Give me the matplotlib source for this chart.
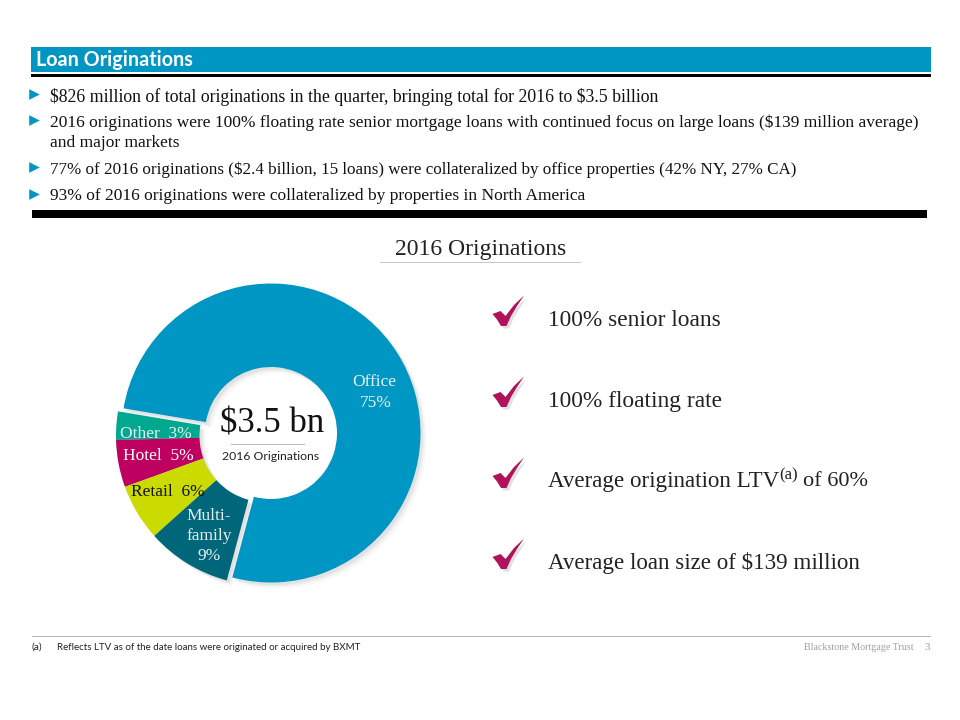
import matplotlib
matplotlib.use("Agg")
import matplotlib.pyplot as plt
from matplotlib.patches import Rectangle, Polygon

SERIF = "Liberation Serif"
SANS = "Lato"

categories = ["Office", "Other", "Hotel", "Retail", "Multifamily"]
shares = [75, 3, 5, 6, 9]
slice_colors = ["#0096C3", "#00A88F", "#BE0060", "#CBDB00", "#00667A"]

bullets = [
    ("$826 million of total originations in the quarter, bringing total for 2016 to $3.5 billion", 95, 12.8),
    ("2016 originations were 100% floating rate senior mortgage loans with continued focus on large loans ($139 million average)\nand major markets", 121, 12.55),
    ("77% of 2016 originations ($2.4 billion, 15 loans) were collateralized by office properties (42% NY, 27% CA)", 168, 12.25),
    ("93% of 2016 originations were collateralized by properties in North America", 195, 12.55),
]
check_rows = [318, 399, 480, 561]

fig = plt.figure(figsize=(9.6, 7.2), dpi=100, facecolor="white")
ax = fig.add_axes([0, 0, 1, 1])
ax.set_xlim(0, 960)
ax.set_ylim(720, 0)
ax.axis("off")


def rect(target, x0, y0, x1, y1, color, z=1):
    target.add_patch(Rectangle((x0, y0), x1 - x0, y1 - y0, fc=color, ec="none", zorder=z))


# header
rect(ax, 31, 47, 931, 72, "#0096C3")
rect(ax, 31, 73.5, 931, 76.5, "black")
ax.text(36, 60, "Loan Originations", color="white", fontsize=14.2, fontweight="bold",
        family=SANS, va="center", ha="left")

# bullets
for txt, y, size in bullets:
    ax.scatter([34], [y - 1], marker=">", s=58, color="#0096C3", linewidths=0, zorder=3)
    ax.text(50, y - 6.5, txt, fontsize=size, family=SERIF, color="#111111", va="top", ha="left",
            linespacing=1.3, parse_math=False)
rect(ax, 32, 210, 927, 218, "black")

# section title
ax.text(480.5, 249, "2016 Originations", fontsize=17, family=SERIF, color="#222222", ha="center", va="center")
rect(ax, 380, 261.5, 581, 262.8, "#C8C8C8")

# donut, on its own axes with a y axis that points up so the pie runs as in the slide
cx, cy, R = 271.0, 433.0, 149.5
HOLE = 66
pad = 30
pie_ax = fig.add_axes([(cx - R - pad) / 960, 1 - (cy + R + pad) / 720, (2 * R + 2 * pad) / 960, (2 * R + 2 * pad) / 720])
pie_ax.axis("off")
pie_ax.patch.set_alpha(0)
sx, sy = -5.5, -3.0

for dx, alpha in [(6, 0.04), (4, 0.06), (2.5, 0.08)]:
    w, _ = pie_ax.pie(shares, startangle=255, counterclock=True, radius=R,
                      colors=["#555555"] * len(shares), center=(dx, -dx),
                      wedgeprops=dict(width=R - HOLE, linewidth=0, alpha=alpha), frame=False)
    for wedge in w[1:]:
        wedge.set_center((dx + sx, -dx + sy))
wedges, _ = pie_ax.pie(shares, startangle=255, counterclock=True, radius=R, colors=slice_colors,
                       center=(0, 0), wedgeprops=dict(width=R - HOLE, linewidth=0), frame=False)
for wedge in wedges[1:]:
    wedge.set_center((sx, sy))
pie_ax.set_xlim(-R - pad, R + pad)
pie_ax.set_ylim(-R - pad, R + pad)
pie_ax.set_aspect("equal")

# labels over the donut
ov = fig.add_axes([0, 0, 1, 1])
ov.set_xlim(0, 960)
ov.set_ylim(720, 0)
ov.axis("off")
ov.patch.set_alpha(0)
lab = dict(family=SERIF, fontsize=12.5, ha="center", va="center")
ov.text(374, 382, "Office", color="#E4F3F8", **lab)
ov.text(376, 403, "75%", color="#E4F3F8", **lab)
ov.text(156, 434, "Other  3%", color="#E6F6F2", **lab)
ov.text(158.5, 456, "Hotel  5%", color="white", **lab)
ov.text(167.5, 492, "Retail  6%", color="#111111", **lab)
ov.text(209, 516, "Multi-", color="#E4F0F2", **lab)
ov.text(209, 536, "family", color="#E4F0F2", **lab)
ov.text(209, 556, "9%", color="#E4F0F2", **lab)
ov.text(272, 424, "$3.5 bn", family=SERIF, fontsize=25, color="#111111", ha="center", va="center", parse_math=False)
rect(ov, 231, 444, 305, 445.2, "#BDBDBD")
ov.text(271, 456, "2016 Originations", family=SANS, fontsize=8.8, color="#222222", ha="center", va="center")


def check_mark(dy):
    shape = [(492.5, 314), (500.5, 311), (505.5, 316), (514, 305), (524, 295.5), (517, 306),
             (511, 316), (506.5, 326), (501, 326), (497, 319.5)]
    ov.add_patch(Polygon([(px + 2.5, py + dy + 2.5) for px, py in shape], closed=True,
                         fc="#999999", ec="none", alpha=0.3))
    ov.add_patch(Polygon([(px, py + dy) for px, py in shape], closed=True, fc="#B0125B", ec="none"))


for y in check_rows:
    check_mark(y - check_rows[0])

rows = dict(family=SERIF, color="#222222", ha="left", va="center", parse_math=False)
ov.text(548, check_rows[0] + 2, "100% senior loans", fontsize=16.8, **rows)
ov.text(548, check_rows[1] + 2, "100% floating rate", fontsize=16.8, **rows)
ov.text(548, check_rows[2] + 2, "Average origination LTV", fontsize=16.55, **rows)
ov.text(779, check_rows[2] - 5, "(a)", fontsize=12, **rows)
ov.text(803, check_rows[2] + 2, "of 60%", fontsize=16, **rows)
ov.text(548, check_rows[3] + 2, "Average loan size of $139 million", fontsize=16.6, **rows)

# footer
rect(ov, 32, 635.8, 931, 636.9, "#B5B5B5")
ov.text(32, 647, "(a)", family=SANS, fontsize=7.4, color="#222222", va="center")
ov.text(57, 647, "Reflects LTV as of the date loans were originated or acquired by BXMT",
        family=SANS, fontsize=7.0, color="#222222", va="center")
ov.text(914, 647, "Blackstone Mortgage Trust", family=SERIF, fontsize=7.2, color="#A0A0A0", ha="right", va="center")
ov.text(927, 648, "3", family=SERIF, fontsize=8, color="#999999", ha="center", va="center")

fig.savefig("out.png", dpi=100)
